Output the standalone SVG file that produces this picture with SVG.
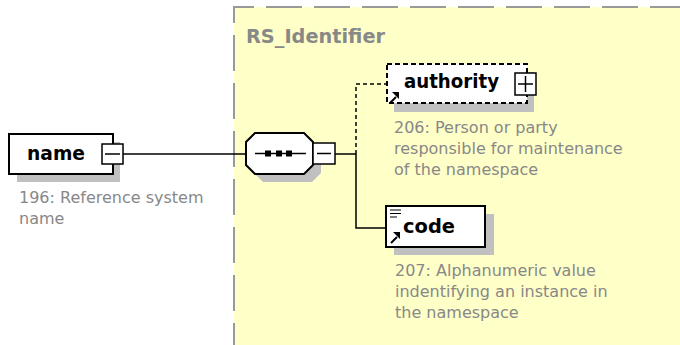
<svg xmlns="http://www.w3.org/2000/svg" width="680" height="345" viewBox="0 0 680 345">
<style>
.box{fill:#fff;stroke:#000;stroke-width:2}
.shadow{fill:#c0c0c0;stroke:none}
.btn{fill:#fff;stroke:#000;stroke-width:1.5}
.ln{stroke:#000;stroke-width:1.5;fill:none}
.dash{stroke:#000;stroke-width:1.5;fill:none;stroke-dasharray:4 3}
.nm{font-family:"DejaVu Sans",Verdana,sans-serif;font-weight:bold;font-size:19px;fill:#000}
.desc{font-family:"DejaVu Sans",Verdana,sans-serif;font-size:16px;fill:#888}
</style>
<rect width="680" height="345" fill="#fff"/>
<g id="RS_Identifier">
<rect x="234" y="7" width="446" height="338" fill="#ffffc8"/>
<path d="M234,345 V7 H680" fill="none" stroke="#999" stroke-width="2" stroke-dasharray="36 12" stroke-dashoffset="14"/>
<text x="246" y="43" font-family="DejaVu Sans,Verdana,sans-serif" font-weight="bold" font-size="19" fill="#888" textLength="139" lengthAdjust="spacingAndGlyphs">RS_Identifier</text>
</g>
<g id="connectors">
<line class="ln" x1="123" y1="154" x2="246" y2="154"/>
<line class="ln" x1="335" y1="154" x2="356" y2="154"/>
<path class="ln" d="M356,154 V228 H386"/>
<path class="dash" d="M356,154 V84 H387"/>
</g>
<g id="name">
<rect class="shadow" x="17" y="142" width="103" height="40"/>
<rect class="box" x="9" y="134" width="104" height="40"/>
<text class="nm" x="27" y="160" textLength="58" lengthAdjust="spacingAndGlyphs">name</text>
<rect class="btn" x="102" y="144" width="21" height="20"/>
<line class="ln" x1="105" y1="154" x2="120" y2="154"/>
<text class="desc" x="19" y="203">196: Reference system</text>
<text class="desc" x="19" y="224">name</text>
</g>
<g id="sequence">
<polygon class="shadow" points="263,141 312,141 321,150 321,173 312,182 263,182 254,173 254,150"/>
<polygon class="box" points="255,133 304,133 313,142 313,165 304,174 255,174 246,165 246,142"/>
<line class="ln" x1="255" y1="153.5" x2="306" y2="153.5"/>
<rect x="265" y="150.5" width="6" height="6" fill="#000"/>
<rect x="276" y="150.5" width="6" height="6" fill="#000"/>
<rect x="286" y="150.5" width="6" height="6" fill="#000"/>
<rect class="btn" x="313" y="143" width="22" height="21"/>
<line class="ln" x1="317" y1="153.5" x2="331" y2="153.5"/>
</g>
<g id="authority">
<rect class="shadow" x="394" y="72" width="140" height="40"/>
<rect x="387" y="64" width="140" height="39" fill="#fff" stroke="#000" stroke-width="2" stroke-dasharray="5 3"/>
<text class="nm" x="404" y="88" textLength="95" lengthAdjust="spacingAndGlyphs">authority</text>
<rect class="btn" x="515" y="73" width="21" height="22"/>
<line class="ln" x1="518" y1="84" x2="533" y2="84"/>
<line class="ln" x1="525.5" y1="76" x2="525.5" y2="92"/>
<path d="M390,103 L396,97" stroke="#000" stroke-width="2"/>
<polygon points="399,92 399,99 392,92" fill="#000"/>
<text class="desc" x="394" y="133">206: Person or party</text>
<text class="desc" x="394" y="154">responsible for maintenance</text>
<text class="desc" x="394" y="175">of the namespace</text>
</g>
<g id="code">
<rect class="shadow" x="394" y="214" width="100" height="41"/>
<rect class="box" x="386" y="206" width="99" height="41"/>
<path d="M390,210 H401 M390,213.5 H401 M390,217 H397" stroke="#000" stroke-width="1.2"/>
<path d="M391,243 L397,237" stroke="#000" stroke-width="2"/>
<polygon points="400,232 400,239 393,232" fill="#000"/>
<text class="nm" x="403" y="233" textLength="52" lengthAdjust="spacingAndGlyphs">code</text>
<text class="desc" x="395" y="276">207: Alphanumeric value</text>
<text class="desc" x="395" y="297">indentifying an instance in</text>
<text class="desc" x="395" y="318">the namespace</text>
</g>
</svg>
